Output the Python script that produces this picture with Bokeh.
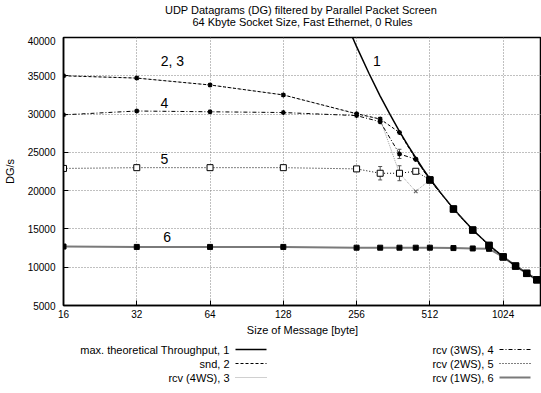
from bokeh.plotting import figure
from bokeh.models import (FixedTicker, Range1d, Label, Whisker, ColumnDataSource,
                          BasicTickFormatter, TeeHead)
from bokeh.layouts import column
from bokeh.embed import file_html
from bokeh.resources import INLINE
from bokeh.core.properties import value

FONT = "Liberation Sans"

# ---------------- data ----------------
sizes = [16, 32, 64, 128, 256, 320, 384, 448, 512, 640, 768, 896, 1024, 1152, 1280, 1408]

theo_sizes = [240, 256, 288, 320, 352, 384, 416, 448, 480, 512, 576, 640, 704, 768,
              832, 896, 960, 1024, 1152, 1280, 1408, 1472, 1500]
theo_vals = [40850, 38800, 35300, 32350, 29900, 27750, 25900, 24300, 22850, 21550, 19450,
             17650, 16200, 14900, 13850, 12900, 12100, 11400, 10200, 9250, 8420, 8100, 7950]

snd = [35000, 34700, 33800, 32500, 30050, 29350, 27600, 24100, 21400, 17600, 14850,
       12850, 11350, 10150, 9200, 8350]
rcv_4ws = [35000, 34700, 33800, 32500, 30000, 29350, 22270, 19900, 21400, 17600, 14850,
           12850, 11350, 10150, 9200, 8350]
rcv_3ws = [29900, 30400, 30300, 30200, 29800, 29000, 24790, 24100, 21400, 17600, 14850,
           12850, 11350, 10150, 9200, 8350]
rcv_2ws = [22900, 23000, 23000, 23000, 22840, 22270, 22270, 22530, 21400, 17600, 14850,
           12850, 11350, 10150, 9200, 8350]
rcv_1ws = [12700, 12650, 12650, 12650, 12550, 12550, 12550, 12550, 12550, 12500, 12450,
           12400, 11350, 10150, 9200, 8350]

err_x = [320, 384, 384]
err_low = [21400, 24200, 21300]
err_high = [23150, 25400, 23250]

x_ticks = [16, 32, 64, 128, 256, 512, 1024]
y_ticks = [5000, 10000, 15000, 20000, 25000, 30000, 35000, 40000]

legend_left = ["max. theoretical Throughput, 1", "snd, 2", "rcv (4WS), 3"]
legend_right = ["rcv (3WS), 4", "rcv (2WS), 5", "rcv (1WS), 6"]

# the column layout aligns the frames of all figures (left border 63 px),
# so the helper figures use a pixel range that starts at 63
# ---------------- title figure ----------------
t = figure(width=541, height=36, x_range=Range1d(63, 541), y_range=Range1d(36, 0),
           output_backend="svg", toolbar_location=None, min_border=0,
           min_border_left=63)
t.axis.visible = False
t.grid.visible = False
t.outline_line_color = None
t.add_layout(Label(x=302, y=9.5, text="UDP Datagrams (DG) filtered by  Parallel Packet Screen",
                   text_align="center", text_baseline="middle", text_font=FONT,
                   text_font_size="11px", text_color="black"))
t.add_layout(Label(x=302, y=21, text="64 Kbyte Socket Size, Fast Ethernet, 0 Rules",
                   text_align="center", text_baseline="middle", text_font=FONT,
                   text_font_size="11px", text_color="black"))

# ---------------- main figure ----------------
p = figure(width=541, height=304, x_axis_type="log",
           x_range=Range1d(16, 1472), y_range=Range1d(5000, 40000),
           output_backend="svg", toolbar_location=None,
           min_border_left=63, min_border_right=0, min_border_top=1, min_border_bottom=35)
p.outline_line_color = "black"
p.outline_line_width = 1.5
p.background_fill_color = "white"

p.xaxis.ticker = FixedTicker(ticks=x_ticks)
p.yaxis.ticker = FixedTicker(ticks=y_ticks)
p.xaxis.formatter = BasicTickFormatter(use_scientific=False)
p.yaxis.formatter = BasicTickFormatter(use_scientific=False)
p.xaxis.major_label_overrides = {v: str(v) for v in x_ticks}
for ax in (p.xaxis[0], p.yaxis[0]):
    ax.major_tick_in = 5
    ax.major_tick_out = 0
    ax.minor_tick_line_color = None
    ax.axis_line_width = 1.5
    ax.axis_line_color = "black"
    ax.major_tick_line_color = "black"
    ax.major_label_text_font = FONT
    ax.major_label_text_font_size = "10px"
    ax.major_label_text_color = "black"
    ax.axis_label_text_font = FONT
    ax.axis_label_text_font_size = "11px"
    ax.axis_label_text_font_style = "normal"
    ax.axis_label_text_color = "black"
p.xaxis.axis_label = "Size of Message [byte]"
p.yaxis.axis_label = "DG/s"
p.xaxis.major_label_standoff = 4
p.xaxis.axis_label_standoff = 3
p.yaxis.major_label_standoff = 8
p.yaxis.axis_label_standoff = 9

p.xgrid.ticker = FixedTicker(ticks=x_ticks)
p.ygrid.ticker = FixedTicker(ticks=y_ticks)
p.grid.grid_line_color = "#808080"
p.grid.grid_line_dash = "1 2"
p.grid.grid_line_width = 1

# series 1: theoretical max
p.line(theo_sizes, theo_vals, line_color="black", line_width=1.5)
# series 6: rcv 1WS
p.line(sizes, rcv_1ws, line_color="#7a7a7a", line_width=2)
# series 3: rcv 4WS
p.line(sizes, rcv_4ws, line_color="#a0a0a0", line_width=1, line_dash="1 1")
# series 2: snd
p.line(sizes, snd, line_color="black", line_width=1, line_dash="3 2")
# series 4: rcv 3WS
p.line(sizes, rcv_3ws, line_color="black", line_width=1, line_dash="4 2 1 2")
# series 5: rcv 2WS
p.line(sizes, rcv_2ws, line_color="black", line_width=1, line_dash="1 2")

# error bars
esrc = ColumnDataSource(dict(x=err_x, lower=err_low, upper=err_high))
p.add_layout(Whisker(source=esrc, base="x", lower="lower", upper="upper",
                     dimension="height", line_color="#555555", line_width=1,
                     upper_head=TeeHead(size=4, line_color="#555555"),
                     lower_head=TeeHead(size=4, line_color="#555555")))

# markers
p.scatter(sizes, rcv_4ws, marker="x", size=5, line_color="#666666", line_width=1.2)
p.scatter(sizes, rcv_2ws, marker="square", size=6, fill_color="white",
          line_color="black", line_width=1)
p.scatter(sizes, snd, marker="asterisk", size=5, line_color="black", line_width=1.3)
p.scatter(sizes, rcv_3ws, marker="asterisk", size=5, line_color="black", line_width=1.3)
p.scatter(sizes, rcv_1ws, marker="square", size=5, fill_color="black", line_color="black")
p.scatter(sizes[8:], snd[8:], marker="square", size=6.5, fill_color="black", line_color="black")

# curve labels
for lx, ly, txt in [(310, 36900, "1"), (44.8, 36900, "2, 3"), (41.6, 31500, "4"),
                    (41.6, 24150, "5"), (42.7, 14000, "6")]:
    p.add_layout(Label(x=lx, y=ly, text=txt, text_align="center", text_baseline="middle",
                       text_font=FONT, text_font_size="14px", text_color="black"))

# ---------------- legend figure ----------------
lg = figure(width=541, height=53, x_range=Range1d(63, 541), y_range=Range1d(53, 0),
            output_backend="svg", toolbar_location=None, min_border=0,
            min_border_left=63)
lg.axis.visible = False
lg.grid.visible = False
lg.outline_line_color = None
rows_y = [9, 23, 37]
lg.text(x=[229] * 3, y=rows_y, text=legend_left, text_align="right", text_baseline="middle",
        text_font=value(FONT), text_font_size="11px", text_color="black")
lg.text(x=[493] * 3, y=rows_y, text=legend_right, text_align="right", text_baseline="middle",
        text_font=value(FONT), text_font_size="11px", text_color="black")
styles_left = [("black", 1.5, "solid"), ("black", 1, "3 2"), ("#a0a0a0", 1, "1 1")]
styles_right = [("black", 1, "4 2 1 2"), ("black", 1, "1 2"), ("#7a7a7a", 2, "solid")]
for (c, w, d), yy in zip(styles_left, rows_y):
    lg.line([235, 266], [yy, yy], line_color=c, line_width=w, line_dash=d)
for (c, w, d), yy in zip(styles_right, rows_y):
    lg.line([499, 530], [yy, yy], line_color=c, line_width=w, line_dash=d)

layout = column(t, p, lg, spacing=0)
open("out.html", "w").write(file_html(layout, INLINE))
